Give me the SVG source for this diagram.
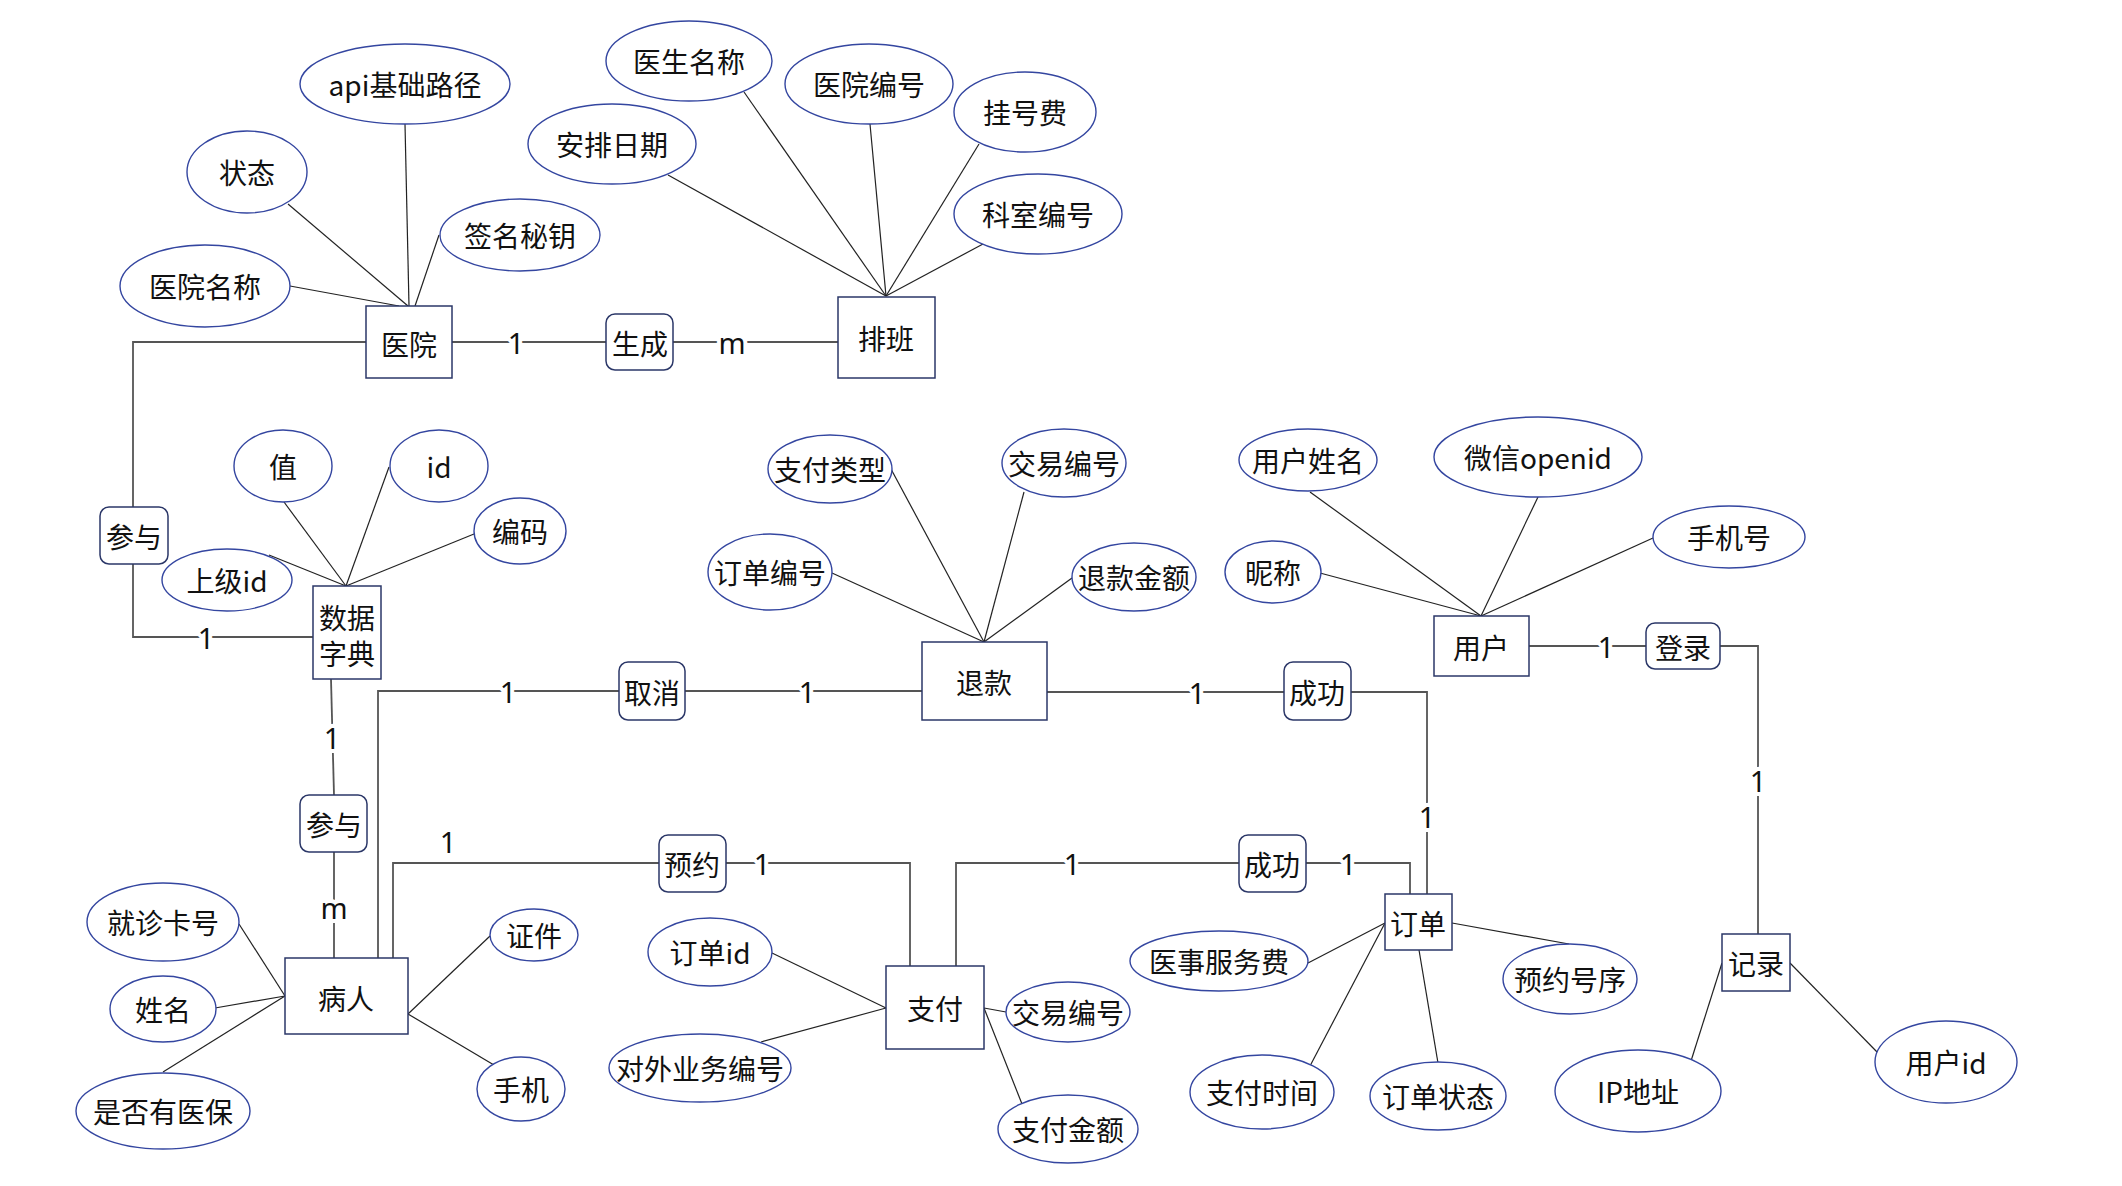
<svg xmlns="http://www.w3.org/2000/svg" width="2122" height="1186" viewBox="0 0 2122 1186">
<style>
.bg{fill:#fff}
.ent{fill:#fff;stroke:#2b3768;stroke-width:1.5}
.rel{fill:#fff;stroke:#2b3768;stroke-width:1.5}
.attr{fill:#fff;stroke:#3446a0;stroke-width:1.4}
.t{font-family:"Noto Sans CJK SC","Noto Sans",sans-serif;font-size:28px;fill:#111;text-anchor:middle;dominant-baseline:central}
.lb{font-family:"Noto Sans","Noto Sans CJK SC",sans-serif;font-size:29px;fill:#111;text-anchor:middle;dominant-baseline:central;paint-order:stroke;stroke:#fff;stroke-width:8px}
.al{stroke:#222;stroke-width:1.2;fill:none}
.rl{stroke:#555;stroke-width:1.8;fill:none}
</style>
<rect class="bg" x="0" y="0" width="2122" height="1186"/>
<g id="connectors">
  <line class="al" x1="288" y1="204" x2="408" y2="306"/>
  <line class="al" x1="405" y1="124" x2="409" y2="306"/>
  <line class="al" x1="439" y1="235" x2="415" y2="306"/>
  <line class="al" x1="290" y1="286" x2="399" y2="306"/>
  <line class="al" x1="668" y1="175" x2="886" y2="296"/>
  <line class="al" x1="744" y1="92" x2="886" y2="296"/>
  <line class="al" x1="870" y1="124" x2="886" y2="296"/>
  <line class="al" x1="979" y1="144" x2="886" y2="296"/>
  <line class="al" x1="983" y1="244" x2="886" y2="296"/>
  <line class="al" x1="284" y1="502" x2="346" y2="586"/>
  <line class="al" x1="389" y1="467" x2="346" y2="586"/>
  <line class="al" x1="474" y1="534" x2="346" y2="586"/>
  <line class="al" x1="269" y1="555" x2="346" y2="586"/>
  <line class="al" x1="891" y1="469" x2="984" y2="642"/>
  <line class="al" x1="1024" y1="492" x2="984" y2="642"/>
  <line class="al" x1="832" y1="573" x2="984" y2="642"/>
  <line class="al" x1="1072" y1="578" x2="984" y2="642"/>
  <line class="al" x1="1310" y1="492" x2="1481" y2="616"/>
  <line class="al" x1="1320" y1="573" x2="1481" y2="616"/>
  <line class="al" x1="1538" y1="497" x2="1481" y2="616"/>
  <line class="al" x1="1653" y1="538" x2="1481" y2="616"/>
  <line class="al" x1="239" y1="924" x2="285" y2="996"/>
  <line class="al" x1="215" y1="1008" x2="285" y2="996"/>
  <line class="al" x1="163" y1="1072" x2="285" y2="996"/>
  <line class="al" x1="490" y1="936" x2="408" y2="1014"/>
  <line class="al" x1="494" y1="1065" x2="408" y2="1014"/>
  <line class="al" x1="772" y1="953" x2="886" y2="1008"/>
  <line class="al" x1="761" y1="1042" x2="886" y2="1008"/>
  <line class="al" x1="1006" y1="1012" x2="984" y2="1008"/>
  <line class="al" x1="1022" y1="1104" x2="984" y2="1008"/>
  <line class="al" x1="1308" y1="963" x2="1385" y2="923"/>
  <line class="al" x1="1310" y1="1066" x2="1385" y2="923"/>
  <line class="al" x1="1452" y1="923" x2="1569" y2="944"/>
  <line class="al" x1="1419" y1="950" x2="1438" y2="1063"/>
  <line class="al" x1="1722" y1="963" x2="1691" y2="1061"/>
  <line class="al" x1="1790" y1="963" x2="1878" y2="1053"/>
  <polyline class="rl" points="452,342 838,342"/>
  <polyline class="rl" points="366,342 133,342 133,507"/>
  <polyline class="rl" points="133,564 133,637 313,637"/>
  <polyline class="rl" points="331,679 334,795"/>
  <polyline class="rl" points="334,852 334,958"/>
  <polyline class="rl" points="378,958 378,691 922,691"/>
  <polyline class="rl" points="393,958 393,863 659,863"/>
  <polyline class="rl" points="726,863 910,863 910,966"/>
  <polyline class="rl" points="956,966 956,863 1410,863 1410,894"/>
  <polyline class="rl" points="1047,692 1427,692 1427,894"/>
  <polyline class="rl" points="1529,646 1758,646 1758,934"/>
  <text class="lb" x="516" y="342">1</text>
  <text class="lb" x="732" y="342">m</text>
  <text class="lb" x="206" y="637">1</text>
  <text class="lb" x="332" y="737">1</text>
  <text class="lb" x="334" y="907">m</text>
  <text class="lb" x="508" y="691">1</text>
  <text class="lb" x="807" y="691">1</text>
  <text class="lb" x="448" y="841">1</text>
  <text class="lb" x="762" y="863">1</text>
  <text class="lb" x="1072" y="863">1</text>
  <text class="lb" x="1348" y="863">1</text>
  <text class="lb" x="1197" y="692">1</text>
  <text class="lb" x="1427" y="816">1</text>
  <text class="lb" x="1606" y="646">1</text>
  <text class="lb" x="1758" y="780">1</text>
</g>
<g id="hospital"><rect class="ent" x="366" y="306" width="86" height="72"/><text class="t" x="409" y="344">医院</text></g>
<g id="schedule"><rect class="ent" x="838" y="297" width="97" height="81"/><text class="t" x="886" y="338">排班</text></g>
<g id="dict"><rect class="ent" x="313" y="586" width="68" height="93"/><text class="t" x="347" y="617">数据</text><text class="t" x="347" y="653">字典</text></g>
<g id="patient"><rect class="ent" x="285" y="958" width="123" height="76"/><text class="t" x="346" y="998">病人</text></g>
<g id="refund"><rect class="ent" x="922" y="642" width="125" height="78"/><text class="t" x="984" y="682">退款</text></g>
<g id="payment"><rect class="ent" x="886" y="966" width="98" height="83"/><text class="t" x="935" y="1008">支付</text></g>
<g id="order"><rect class="ent" x="1385" y="894" width="67" height="56"/><text class="t" x="1418" y="923">订单</text></g>
<g id="user"><rect class="ent" x="1434" y="616" width="95" height="60"/><text class="t" x="1481" y="647">用户</text></g>
<g id="record"><rect class="ent" x="1722" y="934" width="68" height="57"/><text class="t" x="1756" y="963">记录</text></g>
<g id="rel-generate"><rect class="rel" x="606" y="314" width="67" height="56" rx="9"/><text class="t" x="640" y="343">生成</text></g>
<g id="rel-join1"><rect class="rel" x="100" y="507" width="68" height="57" rx="9"/><text class="t" x="134" y="536">参与</text></g>
<g id="rel-cancel"><rect class="rel" x="619" y="662" width="66" height="58" rx="9"/><text class="t" x="652" y="692">取消</text></g>
<g id="rel-join2"><rect class="rel" x="300" y="795" width="67" height="57" rx="9"/><text class="t" x="334" y="824">参与</text></g>
<g id="rel-book"><rect class="rel" x="659" y="835" width="67" height="57" rx="9"/><text class="t" x="692" y="864">预约</text></g>
<g id="rel-success1"><rect class="rel" x="1284" y="662" width="67" height="58" rx="9"/><text class="t" x="1317" y="692">成功</text></g>
<g id="rel-success2"><rect class="rel" x="1239" y="835" width="67" height="57" rx="9"/><text class="t" x="1272" y="864">成功</text></g>
<g id="rel-login"><rect class="rel" x="1646" y="623" width="74" height="46" rx="9"/><text class="t" x="1683" y="647">登录</text></g>
<g id="a-api"><ellipse class="attr" cx="405" cy="84" rx="105" ry="40"/><text class="t" x="405" y="84">api基础路径</text></g>
<g id="a-status"><ellipse class="attr" cx="247" cy="172" rx="60" ry="41"/><text class="t" x="247" y="172">状态</text></g>
<g id="a-sign"><ellipse class="attr" cx="520" cy="235" rx="80" ry="36"/><text class="t" x="520" y="235">签名秘钥</text></g>
<g id="a-hname"><ellipse class="attr" cx="205" cy="286" rx="85" ry="41"/><text class="t" x="205" y="286">医院名称</text></g>
<g id="a-doctor"><ellipse class="attr" cx="689" cy="61" rx="83" ry="40"/><text class="t" x="689" y="61">医生名称</text></g>
<g id="a-date"><ellipse class="attr" cx="612" cy="144" rx="84" ry="40"/><text class="t" x="612" y="144">安排日期</text></g>
<g id="a-hcode"><ellipse class="attr" cx="869" cy="84" rx="84" ry="40"/><text class="t" x="869" y="84">医院编号</text></g>
<g id="a-fee"><ellipse class="attr" cx="1025" cy="112" rx="71" ry="40"/><text class="t" x="1025" y="112">挂号费</text></g>
<g id="a-dept"><ellipse class="attr" cx="1038" cy="214" rx="84" ry="40"/><text class="t" x="1038" y="214">科室编号</text></g>
<g id="a-value"><ellipse class="attr" cx="283" cy="466" rx="49" ry="36"/><text class="t" x="283" y="466">值</text></g>
<g id="a-id"><ellipse class="attr" cx="439" cy="466" rx="49" ry="36"/><text class="t" x="439" y="466">id</text></g>
<g id="a-code"><ellipse class="attr" cx="520" cy="531" rx="46" ry="33"/><text class="t" x="520" y="531">编码</text></g>
<g id="a-parent"><ellipse class="attr" cx="227" cy="580" rx="65" ry="31"/><text class="t" x="227" y="580">上级id</text></g>
<g id="a-paytype"><ellipse class="attr" cx="830" cy="469" rx="62" ry="34"/><text class="t" x="830" y="469">支付类型</text></g>
<g id="a-trade1"><ellipse class="attr" cx="1064" cy="463" rx="62" ry="34"/><text class="t" x="1064" y="463">交易编号</text></g>
<g id="a-orderno"><ellipse class="attr" cx="770" cy="572" rx="62" ry="38"/><text class="t" x="770" y="572">订单编号</text></g>
<g id="a-refundamt"><ellipse class="attr" cx="1134" cy="577" rx="62" ry="34"/><text class="t" x="1134" y="577">退款金额</text></g>
<g id="a-uname"><ellipse class="attr" cx="1308" cy="460" rx="69" ry="31"/><text class="t" x="1308" y="460">用户姓名</text></g>
<g id="a-nick"><ellipse class="attr" cx="1273" cy="572" rx="48" ry="31"/><text class="t" x="1273" y="572">昵称</text></g>
<g id="a-openid"><ellipse class="attr" cx="1538" cy="457" rx="104" ry="40"/><text class="t" x="1538" y="457">微信openid</text></g>
<g id="a-uphone"><ellipse class="attr" cx="1729" cy="537" rx="76" ry="31"/><text class="t" x="1729" y="537">手机号</text></g>
<g id="a-card"><ellipse class="attr" cx="163" cy="922" rx="76" ry="39"/><text class="t" x="163" y="922">就诊卡号</text></g>
<g id="a-pname"><ellipse class="attr" cx="163" cy="1009" rx="53" ry="33"/><text class="t" x="163" y="1009">姓名</text></g>
<g id="a-insure"><ellipse class="attr" cx="163" cy="1111" rx="87" ry="38"/><text class="t" x="163" y="1111">是否有医保</text></g>
<g id="a-cert"><ellipse class="attr" cx="534" cy="935" rx="44" ry="26"/><text class="t" x="534" y="935">证件</text></g>
<g id="a-phone"><ellipse class="attr" cx="521" cy="1089" rx="44" ry="32"/><text class="t" x="521" y="1089">手机</text></g>
<g id="a-orderid"><ellipse class="attr" cx="710" cy="952" rx="62" ry="34"/><text class="t" x="710" y="952">订单id</text></g>
<g id="a-outno"><ellipse class="attr" cx="700" cy="1068" rx="91" ry="34"/><text class="t" x="700" y="1068">对外业务编号</text></g>
<g id="a-trade2"><ellipse class="attr" cx="1068" cy="1012" rx="62" ry="30"/><text class="t" x="1068" y="1012">交易编号</text></g>
<g id="a-payamt"><ellipse class="attr" cx="1068" cy="1129" rx="70" ry="34"/><text class="t" x="1068" y="1129">支付金额</text></g>
<g id="a-medfee"><ellipse class="attr" cx="1219" cy="961" rx="89" ry="30"/><text class="t" x="1219" y="961">医事服务费</text></g>
<g id="a-paytime"><ellipse class="attr" cx="1262" cy="1092" rx="72" ry="37"/><text class="t" x="1262" y="1092">支付时间</text></g>
<g id="a-ostatus"><ellipse class="attr" cx="1438" cy="1096" rx="68" ry="34"/><text class="t" x="1438" y="1096">订单状态</text></g>
<g id="a-seq"><ellipse class="attr" cx="1570" cy="979" rx="67" ry="35"/><text class="t" x="1570" y="979">预约号序</text></g>
<g id="a-ip"><ellipse class="attr" cx="1638" cy="1091" rx="83" ry="41"/><text class="t" x="1638" y="1091">IP地址</text></g>
<g id="a-uid"><ellipse class="attr" cx="1946" cy="1062" rx="71" ry="41"/><text class="t" x="1946" y="1062">用户id</text></g>
</svg>
